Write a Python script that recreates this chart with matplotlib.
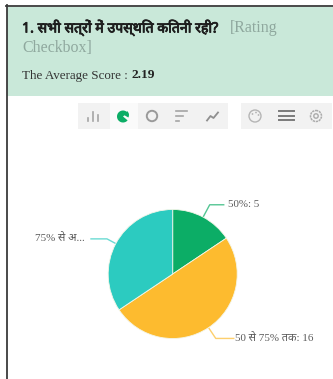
import numpy as np
import matplotlib
matplotlib.use("Agg")
import matplotlib.pyplot as plt
import matplotlib.patheffects as pe
from matplotlib.patches import Rectangle, Circle, Wedge

W, H = 333, 379
categories = ["50%", "50 से 75% तक", "75% से अ..."]
values = [5, 16, 11]
show_value = [True, True, False]
colors = ["#0CAD66", "#FDBB2F", "#2CCBC0"]
title = "1. सभी सत्रों में उपस्थित कितनी रही?"
kind1 = "[Rating"
kind2 = "Checkbox]"
avg_label = "The Average Score : "
avg_value = "2.19"

fam_hi = ["Noto Sans", "Noto Sans CJK SC", "DejaVu Sans"]
serif = ["Liberation Serif", "DejaVu Serif"]

fig = plt.figure(figsize=(W/100, H/100), dpi=100, facecolor="white")
bg = fig.add_axes([0, 0, 1, 1])
bg.set_xlim(0, W); bg.set_ylim(H, 0); bg.axis("off")

bg.add_patch(Rectangle((7, 7), W-7, 89, fc="#C9E8D9", ec="none"))
bg.plot([6.5, 6.5], [5, H], color="#3A3A3A", lw=1.3)
bg.plot([6, W], [5.5, 5.5], color="#3A3A3A", lw=1.3)

bg.text(22, 28, title, fontsize=10.2, color="#1E1E1E", family=fam_hi, va="center",
        path_effects=[pe.withStroke(linewidth=0.6, foreground="#1E1E1E")])
bg.text(230, 28, kind1, fontsize=11.5, color="#8FA89E", family=serif, va="center")
bg.text(22, 48, kind2, fontsize=11.4, color="#8FA89E", family=serif, va="center")
t = bg.text(22, 75.5, avg_label, fontsize=9.4, color="#333333", family=serif, va="center")
fig.canvas.draw()
ext = t.get_window_extent()
bg.text(ext.x1, 75.5, avg_value, fontsize=9.6, color="#222222", family=serif, fontweight="bold", va="center")

# toolbar
bg.add_patch(Rectangle((78, 103), 150, 26, fc="#F2F2F2", ec="none"))
bg.add_patch(Rectangle((241, 103), 91, 26, fc="#F2F2F2", ec="none"))
bg.add_patch(Rectangle((110, 103), 28, 26, fc="#FAFAFA", ec="none"))
g = "#A5A5A5"
for x, h in [(88, 3), (93, 9), (98, 6)]:
    bg.plot([x, x], [121, 121-h], color=g, lw=1.2)
bg.add_patch(Wedge((123, 116.5), 6, 40, 320, fc="#0CAD66", ec="none"))
bg.add_patch(Wedge((124, 115), 5, 310, 30, fc="#0CAD66", ec="none"))
bg.add_patch(Circle((152, 116), 5.2, fc="none", ec="#9A9A9A", lw=1.4))
for y, x2 in [(111, 187), (115.5, 183), (120.5, 179)]:
    bg.plot([176, x2], [y, y], color=g, lw=1.2)
bg.plot([207, 210.5, 213.5, 218], [120.5, 116, 118, 112.5], color="#8F8F8F", lw=1.3)
bg.add_patch(Circle((255, 116), 6, fc="none", ec="#B5B5B5", lw=1))
for px, py in [(252.5, 114), (256, 112.5), (258.5, 115)]:
    bg.add_patch(Circle((px, py), 0.9, fc="#B5B5B5", ec="none"))
for y in [111, 115.5, 120]:
    bg.plot([279, 290], [y, y], color="#7A7A7A", lw=1.4)
    bg.plot([292, 294], [y, y], color="#7A7A7A", lw=1.4)
bg.add_patch(Circle((316, 116), 5.5, fc="none", ec="#ABABAB", lw=1.1, ls=(0, (1.5, 0.5))))
bg.add_patch(Circle((316, 116), 2.2, fc="none", ec="#ABABAB", lw=1))

# pie
cx, cy, r = 172.7, 274, 64.5
ax = fig.add_axes([(cx-r)/W, 1-(cy+r)/H, 2*r/W, 2*r/H])
wedges, _ = ax.pie(values, colors=colors, startangle=90, counterclock=False, radius=1,
                   wedgeprops=dict(edgecolor="#F4F6E8", linewidth=0.6))
ax.set_xlim(-1, 1); ax.set_ylim(-1, 1)

# leaders derive from the slices' mid angles
radial = [14, 13, 10]
horiz = [14, 18, 16]
gaps = [4, 1, 6]
for w, c, v, sv, col, dr, dh, gp in zip(wedges, categories, values, show_value, colors, radial, horiz, gaps):
    a = np.deg2rad((w.theta1 + w.theta2) / 2)
    x0, y0 = cx + r*np.cos(a), cy - r*np.sin(a)
    x1, y1 = cx + (r+dr)*np.cos(a), cy - (r+dr)*np.sin(a)
    s = 1 if np.cos(a) > 0 else -1
    x2 = x1 + s*dh
    bg.plot([x0, x1, x2], [y0, y1, y1], color=col, lw=1, alpha=.7, zorder=5)
    txt = f"{c}: {v}" if sv else c
    bg.text(x2 + s*gp, y1, txt, fontsize=7.9, color="#5A5A5A", family=["Liberation Serif"] + fam_hi,
            ha="left" if s > 0 else "right", va="center")

fig.savefig("out.png", dpi=100)
